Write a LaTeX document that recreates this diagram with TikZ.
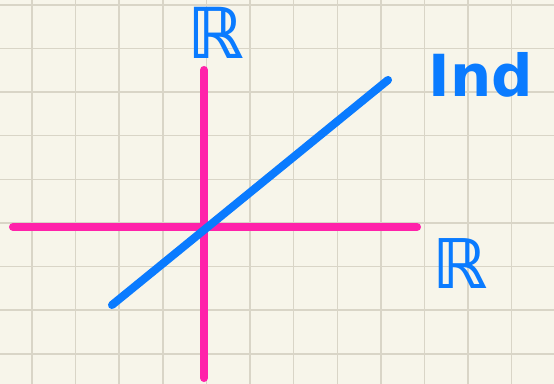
\documentclass[tikz,border=0pt]{standalone}
\usepackage{fontspec}
\usepackage{tikz}
\usetikzlibrary{positioning}
\newfontfamily\handfont{DejaVu Sans}
\definecolor{cpaper}{HTML}{F7F5EA}
\definecolor{cgrid}{HTML}{D9D5C7}
\definecolor{caxis}{HTML}{FF22AA}
\definecolor{cline}{HTML}{0A7BFF}
\tikzset{
  gridln/.style={draw=cgrid,line width=0.8pt},
  axisln/.style={draw=caxis,line width=4.6pt,line cap=round},
  graphln/.style={draw=cline,line width=4.6pt,line cap=round},
  lbl/.style={text=cline,inner sep=0pt,font=\handfont\bfseries\fontsize{33}{33}\selectfont},
}

\begin{document}
\begin{tikzpicture}[x=0.02cm,y=-0.02cm]

% ================= paper =================
\fill[cpaper] (0,0) rectangle (554,384);
\useasboundingbox (0,0) rectangle (554,384);
\foreach \i in {0,...,11}{
  \draw[gridln] ({32+43.6*\i},0) -- ({32+43.6*\i},384);
}
\foreach \j in {0,...,8}{
  \draw[gridln] (0,{5+43.6*\j}) -- (554,{5+43.6*\j});
}

% ================= axes =================
\coordinate (ybot) at (204,378);
\coordinate (ytop) at (204,70);
\coordinate (xlft) at (13,227);
\coordinate (xrgt) at (417,227);
\draw[axisln] (xlft) -- (xrgt);
\draw[axisln] (ybot) -- (ytop);

% ================= the line =================
\coordinate (glft) at (112,305);
\coordinate (grgt) at (388,80);
\draw[graphln] (glft) -- (grgt);

% ================= labels =================
\node[lbl,font=\handfont\bfseries\fontsize{40}{40}\selectfont] (rtop) at (216,33) {ℝ};
\node[lbl,font=\handfont\bfseries\fontsize{39}{39}\selectfont] (rrgt) at (460,264) {ℝ};
\node[lbl] (ind) at (481,75) {Ind};
\end{tikzpicture}
\end{document}
